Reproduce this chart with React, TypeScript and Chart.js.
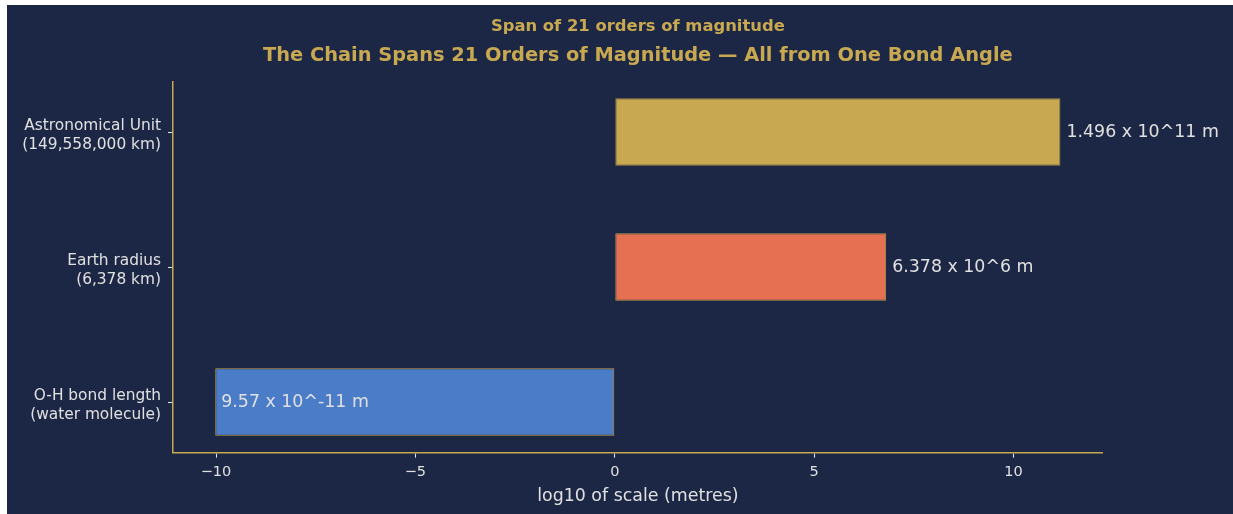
import React, { useEffect, useRef } from "react";
import { Chart, registerables } from "chart.js";

Chart.register(...registerables);

// ---- data ----
const categoryLabels: string[][] = [
  ["O-H bond length", "(water molecule)"],
  ["Earth radius", "(6,378 km)"],
  ["Astronomical Unit", "(149,558,000 km)"],
];
const log10Values: number[] = [-10.019, 6.805, 11.175];
const valueLabels: string[] = ["9.57 x 10^-11 m", "6.378 x 10^6 m", "1.496 x 10^11 m"];
const xTickValues: number[] = [-10, -5, 0, 5, 10];
const chartTitle = "The Chain Spans 21 Orders of Magnitude \u2014 All from One Bond Angle";
const chartSubtitle = "Span of 21 orders of magnitude";
const xAxisTitle = "log10 of scale (metres)";

// ---- styles ----
const BG = "#1b2744";
const GOLD = "#c8a850";
const TEXT = "#e0e0e0";
const barColors = ["#4a7cc8", "#e57052", "#c8a850"];
const edgeColors = ["#c8a040", "#b89a48", "#a88a40"];
const FONT = '"DejaVu Sans", "Liberation Sans", sans-serif';

export default function App() {
  const ref = useRef<HTMLCanvasElement | null>(null);

  useEffect(() => {
    if (!ref.current) return;
    const dataMin = Math.min(0, ...log10Values);
    const dataMax = Math.max(0, ...log10Values);
    const span = dataMax - dataMin;
    const xMin = dataMin - 0.05 * span;
    const xMax = dataMax + 0.05 * span;

    const textPlugin = {
      id: "textPlugin",
      afterDraw(chart: any) {
        const { ctx, chartArea } = chart;
        const cx = (chartArea.left + chartArea.right) / 2;
        ctx.save();
        ctx.fillStyle = GOLD;
        ctx.textAlign = "center";
        ctx.textBaseline = "middle";
        ctx.font = `bold 16.4px ${FONT}`;
        ctx.fillText(chartSubtitle, cx, chartArea.top - 55);
        ctx.font = `bold 19.4px ${FONT}`;
        ctx.fillText(chartTitle, cx, chartArea.top - 25.5);
        const xs = chart.scales.x;
        const ys = chart.scales.y;
        ctx.font = `17.4px ${FONT}`;
        ctx.textAlign = "left";
        ctx.fillStyle = TEXT;
        log10Values.forEach((v, i) => {
          ctx.fillText(valueLabels[i], xs.getPixelForValue(v + 0.15), ys.getPixelForValue(i) + 0.5);
        });
        ctx.restore();
      },
    };

    const chart = new Chart(ref.current, {
      type: "bar",
      data: {
        datasets: [
          {
            data: log10Values.map((v, i) => ({ x: [0, v], y: i })) as any,
            backgroundColor: barColors,
            borderColor: edgeColors,
            borderWidth: 1,
            borderSkipped: false,
            categoryPercentage: 1,
            barPercentage: 0.5,
          },
        ],
      },
      options: {
        indexAxis: "y",
        animation: false,
        responsive: true,
        maintainAspectRatio: false,
        layout: { padding: { top: 76.5, right: 130.3, left: 0, bottom: 0 } },
        plugins: { legend: { display: false }, tooltip: { enabled: false } },
        scales: {
          x: {
            type: "linear",
            min: xMin,
            max: xMax,
            offset: false,
            afterBuildTicks: (s: any) => {
              s.ticks = xTickValues.map((v) => ({ value: v }));
            },
            afterFit: (s: any) => {
              s.height = 61.3;
            },
            ticks: {
              color: TEXT,
              font: { family: FONT, size: 14.5 },
              padding: 6,
              maxRotation: 0,
              autoSkip: false,
              callback: (v: any) => (v < 0 ? "\u2212" + Math.abs(v) : String(v)),
            },
            grid: {
              offset: false,
              drawOnChartArea: false,
              drawTicks: true,
              tickLength: 5,
              tickColor: TEXT,
              tickWidth: 1.1,
            },
            border: { display: true, color: GOLD, width: 1.5 },
            title: {
              display: true,
              text: xAxisTitle,
              color: TEXT,
              font: { family: FONT, size: 17.4 },
              padding: { top: 0, bottom: 6.6 },
            },
          },
          y: {
            type: "linear",
            min: -0.375,
            max: 2.375,
            offset: false,
            afterBuildTicks: (s: any) => {
              s.ticks = categoryLabels.map((_, i) => ({ value: i }));
            },
            afterFit: (s: any) => {
              s.width = 166;
            },
            ticks: {
              color: TEXT,
              font: { family: FONT, size: 15.4, lineHeight: 1.23 },
              padding: 7,
              labelOffset: 3,
              autoSkip: false,
              callback: (v: any) => categoryLabels[v] ?? "",
            },
            grid: {
              offset: false,
              drawOnChartArea: false,
              drawTicks: true,
              tickLength: 5,
              tickColor: TEXT,
              tickWidth: 1.1,
            },
            border: { display: true, color: GOLD, width: 1.5 },
          },
        },
      } as any,
      plugins: [textPlugin],
    });
    return () => chart.destroy();
  }, []);

  return (
    <div
      style={{
        position: "fixed",
        left: 7,
        top: 5,
        width: 1226,
        height: 509,
        background: BG,
      }}
    >
      <canvas ref={ref} />
    </div>
  );
}
